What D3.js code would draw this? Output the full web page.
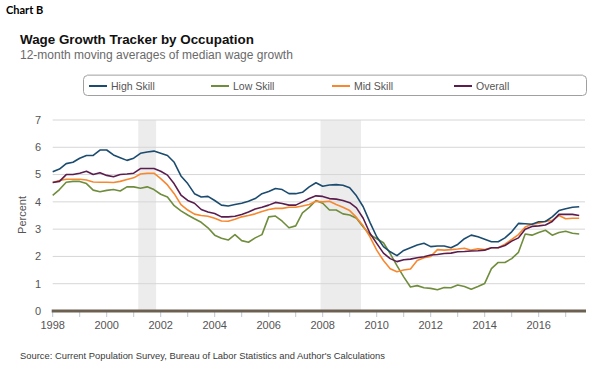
<!DOCTYPE html>
<html>
<head>
<meta charset="utf-8">
<script src="https://cdn.jsdelivr.net/npm/d3@7"></script>
<style>
    body { margin: 0; background: #fff; }
    svg { font-family: "Liberation Sans", Arial, sans-serif; }
</style>
</head>
<body>
<svg id="SVG_CONTAINER" width="610" height="375"></svg>
<script>
// quarterly values, 1998 Q1 .. 2017 Q3
const startYear = 1998;
const quarters = d3.range(0, 79).map(i => startYear + i * 0.25);

const highSkill = [
    5.10,5.20,5.40,5.45, 5.60,5.70,5.70,5.90, 5.90,5.72,5.62,5.52, 5.60,5.78,5.83,5.86, 5.78,5.70,5.45,4.95,
    4.67,4.30,4.18,4.20, 4.05,3.88,3.85,3.90, 3.95,4.02,4.12,4.30, 4.38,4.49,4.45,4.30, 4.30,4.35,4.55,4.70,
    4.57,4.62,4.63,4.61, 4.52,4.22,3.82,3.25, 2.72,2.36,2.17,2.03, 2.22,2.32,2.42,2.48, 2.36,2.38,2.38,2.32,
    2.44,2.65,2.78,2.72, 2.63,2.54,2.54,2.68, 2.90,3.21,3.20,3.18, 3.27,3.28,3.45,3.68, 3.75,3.80,3.82
];
const lowSkill = [
    4.24,4.45,4.72,4.75, 4.75,4.67,4.43,4.37, 4.42,4.45,4.40,4.55, 4.55,4.50,4.55,4.45, 4.28,4.18,3.86,3.67,
    3.52,3.38,3.25,3.05, 2.78,2.67,2.60,2.80, 2.58,2.52,2.68,2.80, 3.45,3.48,3.29,3.05, 3.12,3.60,3.80,4.05,
    3.95,3.70,3.70,3.56, 3.52,3.40,3.08,2.80, 2.65,2.50,2.10,1.66, 1.25,0.88,0.93,0.85, 0.83,0.78,0.86,0.85,
    0.95,0.90,0.80,0.90, 1.01,1.55,1.78,1.78, 1.92,2.15,2.82,2.78, 2.88,2.96,2.78,2.88, 2.92,2.85,2.82
];
const midSkill = [
    4.71,4.78,4.83,4.83, 4.83,4.80,4.73,4.72, 4.72,4.71,4.75,4.82, 4.88,5.02,5.05,5.05, 4.85,4.62,4.30,3.90,
    3.70,3.55,3.50,3.47, 3.40,3.30,3.29,3.36, 3.45,3.50,3.56,3.65, 3.72,3.76,3.76,3.80, 3.80,3.85,3.90,4.02,
    4.00,4.02,3.90,3.80, 3.68,3.43,3.12,2.72, 2.23,1.85,1.55,1.44, 1.50,1.54,1.85,1.95, 2.00,2.25,2.23,2.25,
    2.27,2.30,2.23,2.28, 2.25,2.32,2.32,2.45, 2.62,2.80,3.08,3.18, 3.22,3.29,3.32,3.50, 3.38,3.40,3.40
];
const overall = [
    4.71,4.75,5.00,5.00, 5.05,5.12,5.00,5.07, 4.97,4.92,5.00,5.02, 5.05,5.22,5.22,5.22, 5.12,4.98,4.66,4.25,
    4.05,3.95,3.72,3.63, 3.57,3.45,3.45,3.47, 3.54,3.63,3.74,3.80, 3.88,3.98,3.94,3.88, 3.88,4.00,4.12,4.22,
    4.20,4.12,4.10,4.05, 3.97,3.78,3.40,2.85, 2.48,2.12,1.92,1.81, 1.88,1.90,1.95,1.99, 2.05,2.07,2.11,2.12,
    2.17,2.18,2.20,2.21, 2.23,2.32,2.32,2.40, 2.56,2.68,3.00,3.10, 3.12,3.15,3.28,3.54, 3.54,3.54,3.50
];

const seriesNames = ["High Skill", "Low Skill", "Mid Skill", "Overall"];
const seriesColours = ["#1b4b6f", "#6f8d3c", "#f7882f", "#5a1d4e"];

// recessions (Mar-Nov 2001, Dec 2007-Jun 2009)
const recessions = [[2001.17, 2001.83], [2007.92, 2009.42]];

const yTicks = [0, 1, 2, 3, 4, 5, 6, 7];
const xLabelYears = [1998, 2000, 2002, 2004, 2006, 2008, 2010, 2012, 2014, 2016];
const xTickYears = d3.range(1998, 2018);

window.onload = function () {
    let svg = d3.select("#SVG_CONTAINER");

    //** SCALES *****************************************
    let xScale = d3.scaleLinear().domain([1998, 2018]).range([52.7, 592.7]);
    let yScale = d3.scaleLinear().domain([0, 7]).range([311, 120]);
    const plotRight = 585;

    //** TITLES *****************************************
    svg.append("text")
        .attr("x", 6).attr("y", 14)
        .style("font-family", "Lato, sans-serif")
        .style("font-weight", "bold")
        .style("font-size", "11px")
        .text("Chart B");

    svg.append("text")
        .attr("x", 20).attr("y", 43.5)
        .style("font-weight", "bold")
        .style("font-size", "13.4px")
        .attr("fill", "#111")
        .text("Wage Growth Tracker by Occupation");

    svg.append("text")
        .attr("x", 20).attr("y", 58.5)
        .style("font-size", "12px")
        .attr("fill", "#6a6a6a")
        .text("12-month moving averages of median wage growth");

    //** LEGEND *****************************************
    svg.append("rect")
        .attr("x", 83.5).attr("y", 75.5)
        .attr("width", 503).attr("height", 20)
        .attr("rx", 4)
        .attr("fill", "#fff")
        .attr("stroke", "#a0a0a0");
    svg.append("line")
        .attr("x1", 87).attr("x2", 583)
        .attr("y1", 75).attr("y2", 75)
        .attr("stroke", "#cfcfcf").attr("stroke-width", 1.5);

    let legendX = [89, 211, 332, 454];
    for (let i = 0; i < seriesNames.length; i++) {
        svg.append("line")
            .attr("x1", legendX[i]).attr("x2", legendX[i] + 18)
            .attr("y1", 86).attr("y2", 86)
            .attr("stroke", seriesColours[i])
            .attr("stroke-width", 2);
        svg.append("text")
            .attr("x", legendX[i] + 22).attr("y", 89.5)
            .style("font-size", "10.5px")
            .attr("fill", "#555")
            .text(seriesNames[i]);
    }

    //** RECESSION SHADING *****************************************
    svg.append("g").selectAll("rect")
        .data(recessions)
        .enter()
        .append("rect")
        .attr("x", d => xScale(d[0]))
        .attr("width", d => xScale(d[1]) - xScale(d[0]))
        .attr("y", yScale(7))
        .attr("height", yScale(0) - yScale(7))
        .attr("fill", "#ececec");

    //** GRID + Y AXIS *****************************************
    svg.append("g").selectAll("line")
        .data(yTicks.slice(1))
        .enter()
        .append("line")
        .attr("x1", xScale(1998)).attr("x2", plotRight)
        .attr("y1", d => yScale(d)).attr("y2", d => yScale(d))
        .attr("stroke", "#d6d6d6").attr("stroke-width", 1);

    svg.append("g").selectAll("text")
        .data(yTicks)
        .enter()
        .append("text")
        .attr("x", 41)
        .attr("y", d => yScale(d))
        .attr("dy", "0.35em")
        .attr("text-anchor", "end")
        .style("font-size", "11px")
        .attr("fill", "#555")
        .text(d => d);

    svg.append("text")
        .attr("transform", "translate(26," + 215 + ") rotate(-90)")
        .attr("text-anchor", "middle")
        .style("font-size", "11px")
        .attr("fill", "#555")
        .text("Percent");

    //** X AXIS *****************************************
    svg.append("g").selectAll("line")
        .data(xTickYears)
        .enter()
        .append("line")
        .attr("x1", d => xScale(d)).attr("x2", d => xScale(d))
        .attr("y1", 312).attr("y2", 317)
        .attr("stroke", "#b9c8d6").attr("stroke-width", 1);

    svg.append("line")
        .attr("x1", xScale(1998) - 1).attr("x2", plotRight + 1)
        .attr("y1", 311).attr("y2", 311)
        .attr("stroke", "#6c6150").attr("stroke-width", 3);

    svg.append("g").selectAll("text")
        .data(xLabelYears)
        .enter()
        .append("text")
        .attr("x", d => xScale(d))
        .attr("y", 329)
        .attr("text-anchor", "middle")
        .style("font-size", "11px")
        .attr("fill", "#555")
        .text(d => d);

    //** LINES *****************************************
    let allSeries = [highSkill, lowSkill, midSkill, overall];
    let line = d3.line()
        .x((d, i) => xScale(quarters[i]))
        .y(d => yScale(d));

    // draw order: low, mid, overall, high on top
    let order = [1, 2, 3, 0];
    order.forEach(function (k) {
        svg.append("path")
            .datum(allSeries[k])
            .attr("d", line)
            .attr("fill", "none")
            .attr("stroke", seriesColours[k])
            .attr("stroke-width", 1.6)
            .attr("stroke-linejoin", "round");
    });

    //** SOURCE *****************************************
    svg.append("text")
        .attr("x", 20).attr("y", 359)
        .style("font-size", "9.4px")
        .attr("fill", "#3a3a3a")
        .text("Source: Current Population Survey, Bureau of Labor Statistics and Author's Calculations");
};
</script>
</body>
</html>
